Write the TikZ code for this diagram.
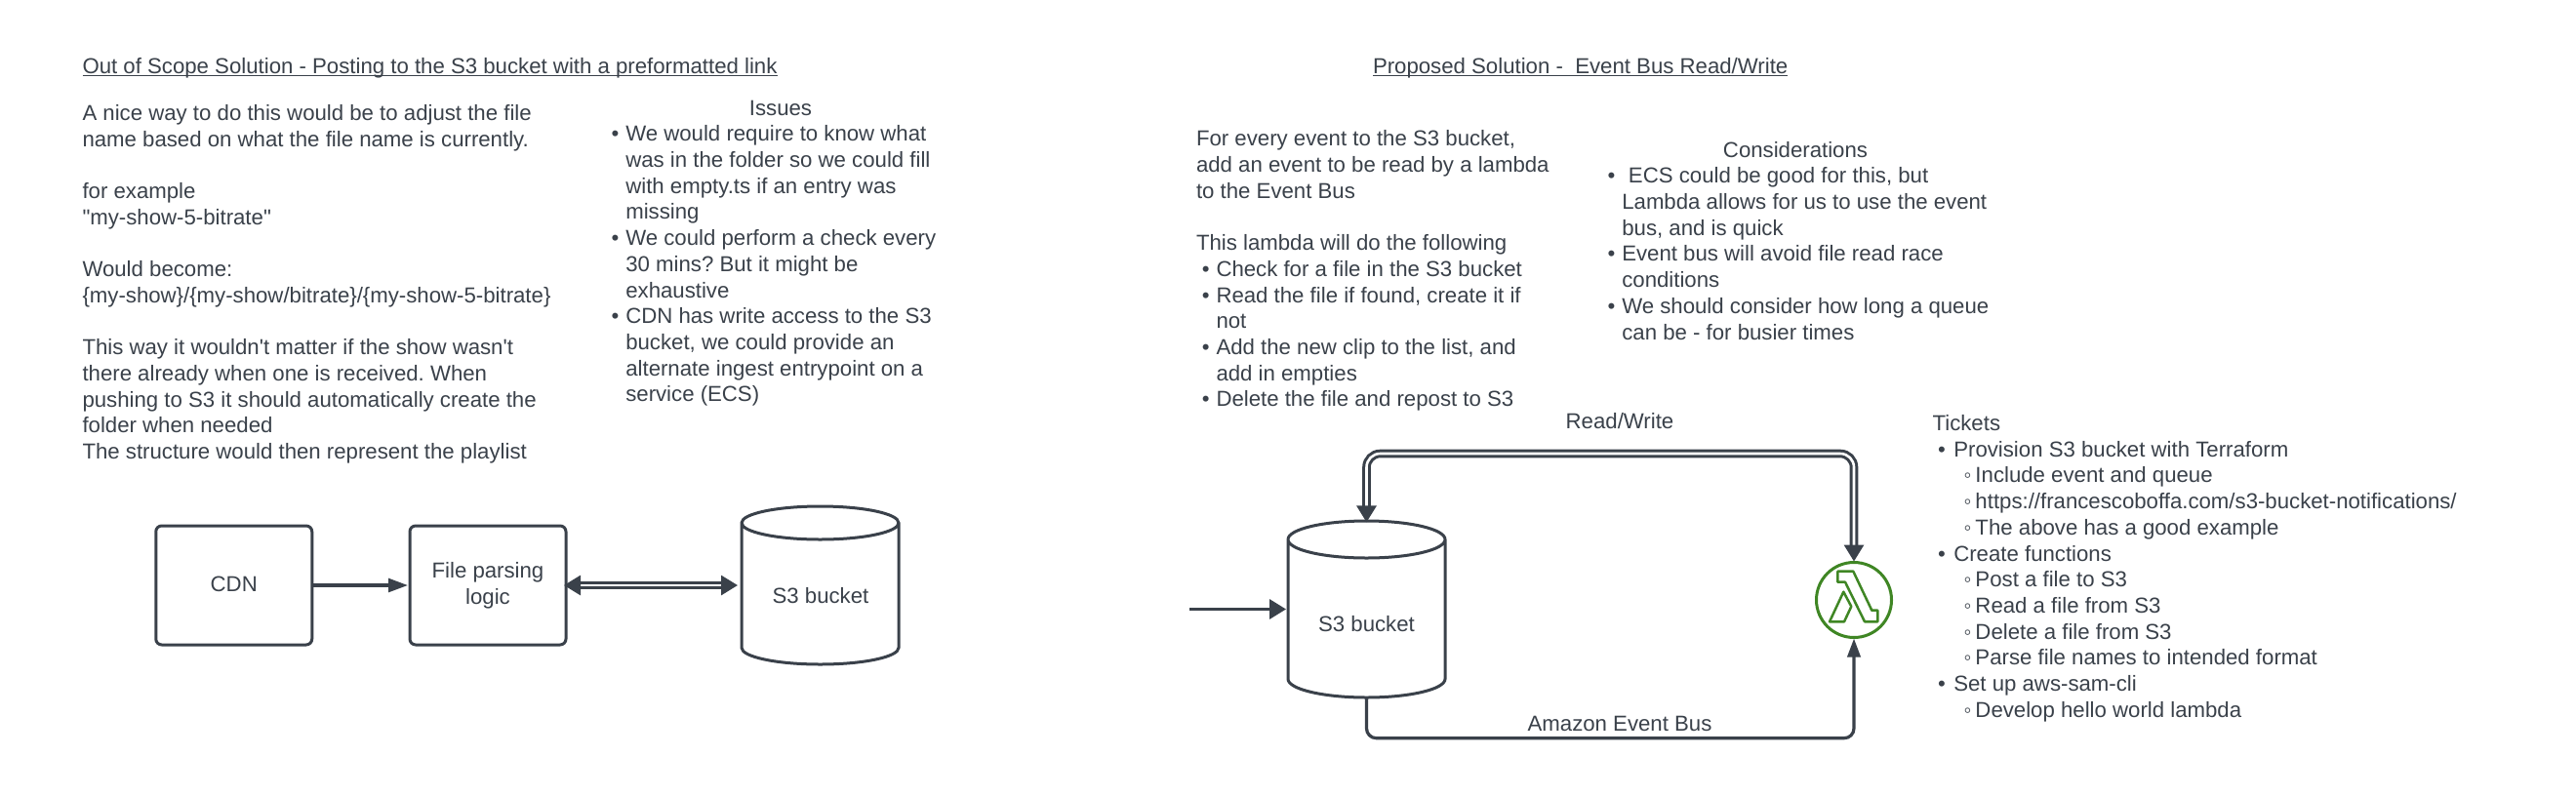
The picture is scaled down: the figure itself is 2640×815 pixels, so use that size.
\documentclass[tikz,border=0pt]{standalone}
\usepackage{fontspec}
\newfontfamily\lib{Liberation Sans}
\usetikzlibrary{arrows.meta}
\definecolor{ink}{HTML}{3A414A}
\definecolor{awsgreen}{HTML}{3F8624}
\newcommand{\bl}{\makebox[7.35pt][l]{•}}
\newcommand{\cont}{\hspace*{7.35pt}}
\newcommand{\bll}{\hspace*{2.9pt}\makebox[7.35pt][l]{•}}
\newcommand{\contl}{\hspace*{10.25pt}}
\newcommand{\blt}{\hspace*{2.7pt}\makebox[8.15pt][l]{•}}
\newcommand{\sbl}{\hspace*{16pt}\makebox[5.95pt][l]{◦}}
\newcommand{\first}{\rule{0pt}{10pt}}
\newcommand{\up}[1]{\raisebox{0.9pt}{#1}}
\tikzset{
  x=0.5pt,y=-0.5pt,
  txt/.style={text=ink,inner sep=0pt,outer sep=0pt,font=\lib\frenchspacing\fontsize{11.1}{13.35pt}\selectfont},
  block/.style={txt,anchor=north west,align=left},
  mid/.style={txt,anchor=center,align=center},
  boxshape/.style={draw=ink,line width=1.5pt,rounded corners=3pt,minimum width=80pt,minimum height=61pt,inner sep=0pt,outer sep=0pt,text=ink,align=center,font=\lib\frenchspacing\fontsize{11.1}{13.35pt}\selectfont},
  shapeline/.style={draw=ink,line width=1.5pt},
  ghost/.style={inner sep=0pt,outer sep=0pt,minimum width=80.5pt},
  conn/.style={draw=ink,line width=1.6pt},
  dconn/.style={draw=ink,line width=1.5pt,double=white,double distance=1.3pt},
  ul/.style={draw=ink,line width=0.9pt},
  head/.style={-{Triangle[length=10pt,width=6.9pt,fill=ink]}},
  bighead/.style={-{Triangle[length=8.5pt,width=10pt,fill=ink]}},
  smallup/.style={-{Triangle[length=9.5pt,width=6.6pt,fill=ink]}},
  bothheads/.style={{Triangle[length=8.5pt,width=10pt,fill=ink]}-{Triangle[length=8.5pt,width=10pt,fill=ink]}},
}
\begin{document}
\begin{tikzpicture}
\useasboundingbox (0,0) rectangle (2640,815);
\fill[white] (0,0) rectangle (2640,815);

% titles
\node[txt,anchor=base west] (titleA) at (84.5,75) {Out of Scope Solution - Posting to the S3 bucket with a preformatted link};
\draw[ul] ([yshift=-1.2pt]titleA.base west) -- ([yshift=-1.2pt]titleA.base east);
\node[txt,anchor=base west] (titleB) at (1407,75) {Proposed Solution -\ \ Event Bus Read/Write};
\draw[ul] ([yshift=-1.2pt]titleB.base west) -- ([yshift=-1.2pt]titleB.base east);

% left text
\node[block] (introA) at (84.5,103.5) {\first A nice way to do this would be to adjust the file\\
name based on what the file name is currently.\\
\mbox{}\\
for example\\
"my-show-5-bitrate"\\
\mbox{}\\
Would become:\\
\{my-show\}/\{my-show/bitrate\}/\{my-show-5-bitrate\}\\
\mbox{}\\
This way it wouldn't matter if the show wasn't\\
there already when one is received. When\\
pushing to S3 it should automatically create the\\
folder when needed\\
The structure would then represent the playlist};

\node[mid] (issues) at (800,110.7) {Issues};
\node[block] (issueList) at (626.6,124.8) {\first\bl We would require to know what\\
\cont was in the folder so we could fill\\
\cont with empty.ts if an entry was\\
\cont missing\\
\bl We could perform a check every\\
\cont 30 mins? But it might be\\
\cont exhaustive\\
\bl CDN has write access to the S3\\
\cont bucket, we could provide an\\
\cont alternate ingest entrypoint on a\\
\cont service (ECS)};

% left diagram
\node[boxshape] (cdn) at (239.75,600) {\up{CDN}};
\node[boxshape] (parse) at (500,600) {\up{File parsing}\\\up{logic}};
\node[ghost,minimum height=81pt] (s3a) at (840.5,600) {};
\draw[shapeline] ([yshift=-8.5pt]s3a.north west) arc[start angle=180,end angle=360,x radius=80.5,y radius=-17]
   arc[start angle=0,end angle=180,x radius=80.5,y radius=-17] -- ([yshift=8.5pt]s3a.south west)
   arc[start angle=180,end angle=360,x radius=80.5,y radius=-17] -- ([yshift=-8.5pt]s3a.north east);
\node[mid] (s3aLabel) at (841,610.5) {S3 bucket};
\draw[conn,head,shorten >=1pt] (cdn.east) -- (parse.west);
\draw[dconn,bothheads,shorten <=-1pt,shorten >=2pt] (parse.east) -- (s3a.west);

% right text
\node[block] (introB) at (1226,129.8) {\first For every event to the S3 bucket,\\
add an event to be read by a lambda\\
to the Event Bus\\
\mbox{}\\
This lambda will do the following\\
\bll Check for a file in the S3 bucket\\
\bll Read the file if found, create it if\\
\contl not\\
\bll Add the new clip to the list, and\\
\contl add in empties\\
\bll Delete the file and repost to S3};

\node[mid] (considerations) at (1840,154) {Considerations};
\node[block] (considerList) at (1647.6,167.8) {\first\bl\hspace*{3.35pt}ECS could be good for this, but\\
\cont Lambda allows for us to use the event\\
\cont bus, and is quick\\
\bl Event bus will avoid file read race\\
\cont conditions\\
\bl We should consider how long a queue\\
\cont can be - for busier times};

\node[block] (tickets) at (1980.6,421.5) {\first Tickets\\
\blt Provision S3 bucket with Terraform\\
\sbl Include event and queue\\
\sbl https://francescoboffa.com/s3-bucket-notifications/\\
\sbl The above has a good example\\
\blt Create functions\\
\sbl Post a file to S3\\
\sbl Read a file from S3\\
\sbl Delete a file from S3\\
\sbl Parse file names to intended format\\
\blt Set up aws-sam-cli\\
\sbl Develop hello world lambda};

% right diagram
\node[ghost,minimum height=90.5pt] (s3b) at (1400.5,624.5) {};
\draw[shapeline] ([yshift=-9.5pt]s3b.north west) arc[start angle=180,end angle=360,x radius=80.5,y radius=-19]
   arc[start angle=0,end angle=180,x radius=80.5,y radius=-19] -- ([yshift=9.5pt]s3b.south west)
   arc[start angle=180,end angle=360,x radius=80.5,y radius=-19] -- ([yshift=-9.5pt]s3b.north east);
\node[mid] (s3bLabel) at (1400.5,639.5) {S3 bucket};

\node[circle,draw=awsgreen,line width=1.5pt,minimum size=38.5pt,inner sep=0pt,outer sep=0pt] (lambda) at (1900,615) {};
\draw[draw=awsgreen,line width=1.25pt,line join=round] (1883.3,585.7) -- (1899.3,585.7) -- (1918.3,625.7) -- (1924.3,625.7) -- (1924.3,637.3) -- (1911,637.3) -- (1891,596.7) -- (1883.3,596.7) -- cycle;
\draw[draw=awsgreen,line width=1.25pt,line join=round] (1889.3,606.7) -- (1897.3,621.7) -- (1890,637.3) -- (1875,637.3) -- cycle;

\coordinate (inStart) at (1219,624.5);
\coordinate (rwLevel) at (1650,465);
\coordinate (busLevel) at (1650,756.7);
\draw[conn,bighead,shorten >=1pt] (inStart) -- (s3b.west);
\draw[dconn,bothheads,rounded corners=7pt,shorten <=-0.7pt,shorten >=0.5pt] (s3b.north) -- (s3b.north |- rwLevel) -- (lambda.north |- rwLevel) -- (lambda.north);
\draw[conn,smallup,rounded corners=5pt,shorten >=0.5pt] (s3b.south) -- (s3b.south |- busLevel) -- (lambda.south |- busLevel) -- (lambda.south);
\node[mid] (rwLabel) at (1660,432) {Read/Write};
\node[mid] (busLabel) at (1660,742) {Amazon Event Bus};
\end{tikzpicture}
\end{document}
